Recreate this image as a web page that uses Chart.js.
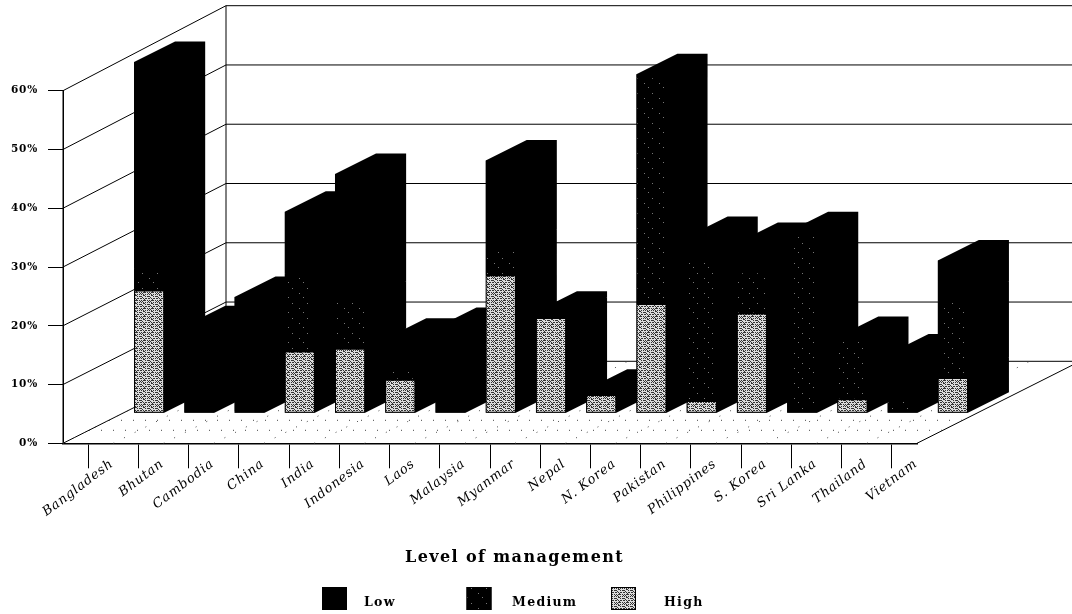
<!DOCTYPE html>
<html>
<head>
<meta charset="utf-8">
<title>Level of management</title>
<script src="https://cdn.jsdelivr.net/npm/chart.js@4/dist/chart.umd.min.js"></script>
<style>
  html, body { margin: 0; background: #fff; }
  canvas { display: block; }
</style>
</head>
<body>
<canvas id="chart" width="1072" height="614"></canvas>
<script>
const countries = ['Bangladesh', 'Bhutan', 'Cambodia', 'China', 'India', 'Indonesia', 'Laos', 'Malaysia', 'Myanmar',
  'Nepal', 'N. Korea', 'Pakistan', 'Philippines', 'S. Korea', 'Sri Lanka', 'Thailand', 'Vietnam'];
const high = [20.9, 0, 0.3, 10.5, 11, 5.7, 0, 23.5, 16.2, 3.1, 18.6, 2.1, 17, 0, 2.4, 0, 6];
const medium = [3.8, 0, 0, 13.3, 8, 2, 0, 4.3, 0, 0, 38.6, 24, 7, 30.3, 10.1, 2.1, 13];
const low = [35.1, 14.8, 19.5, 10.5, 21.7, 5, 14.5, 15.2, 1.1, 0.9, 0.5, 3.9, 5, 0.5, 0.5, 7.9, 7];
const yTicks = [0, 10, 20, 30, 40, 50, 60];
const axisTitle = 'Level of management';

// drawing geometry of the fake 3D box
const AREA = { left: 63, right: 917, top: 90.7, bottom: 443.3 };
const WALL_DX = 163, WALL_DY = 82;   // floor depth
const BAR_DX = 41, BAR_DY = 20.5;    // bar depth
const SHIFT_DX = 61, SHIFT_DY = 30;  // bars sit in the middle of the floor
const SERIF = '"DejaVu Serif", "Liberation Serif", serif';

function tilePattern(rows, ink, paper) {
  const c = document.createElement('canvas');
  c.width = rows[0].length;
  c.height = rows.length;
  const g = c.getContext('2d');
  g.fillStyle = paper;
  g.fillRect(0, 0, c.width, c.height);
  g.fillStyle = ink;
  rows.forEach((row, y) => [...row].forEach((p, x) => { if (p === '#') g.fillRect(x, y, 1, 1); }));
  return g.createPattern(c, 'repeat');
}

const lowFill = '#000';
const mediumFill = tilePattern([
  '...............', '...............', '...............', '......#........', '...............',
  '...............', '...............', '...............', '.............#.', '...............',
  '...............', '...............', '..#............', '...............', '...............'
], '#777', '#000');
const highFill = tilePattern([
  '#.#.##.#', '...#....', '#.###.#.', '.#.....#', '#.#.#.#.', '..##....', '#...#.##', '.#......'
], '#333', '#dcdcdc');

function rearY(scale, v) {
  return scale.getPixelForValue(v) - WALL_DY - v * 0.05;
}

function line(ctx, x1, y1, x2, y2) {
  ctx.beginPath();
  ctx.moveTo(x1, y1);
  ctx.lineTo(x2, y2);
  ctx.stroke();
}

function drawBox(chart) {
  const { ctx, scales: { x, y } } = chart;
  const left = x.left, right = x.right, floor = y.getPixelForValue(0);
  ctx.save();
  ctx.strokeStyle = '#000';
  ctx.lineWidth = 1;
  yTicks.forEach(v => {
    const fy = y.getPixelForValue(v), ry = rearY(y, v);
    line(ctx, left, fy, left + WALL_DX, ry);
    line(ctx, left + WALL_DX, ry, chart.width, ry);
  });
  line(ctx, left, y.getPixelForValue(60), left, floor);
  line(ctx, left + WALL_DX, rearY(y, 60), left + WALL_DX, floor - WALL_DY);
  line(ctx, right, floor, right + WALL_DX, floor - WALL_DY);

  // dotted floor
  ctx.strokeStyle = '#444';
  ctx.setLineDash([1, 11]);
  countries.forEach((c, i) => {
    const fx = x.getPixelForValue(i) - x.width / countries.length / 2;
    line(ctx, fx, floor, fx + WALL_DX, floor - WALL_DY);
  });
  line(ctx, left + 26, floor - 13, right + 26, floor - 13);
  line(ctx, left + 46, floor - 23, right + 46, floor - 23);
  ctx.restore();
}

// side and roof go under the fronts, the next bar's front hides them
function drawSides(chart) {
  const ctx = chart.ctx;
  ctx.fillStyle = '#000';
  chart.data.datasets.forEach((ds, d) => {
    chart.getDatasetMeta(d).data.forEach(bar => {
      const r = bar.x + bar.width / 2, l = bar.x - bar.width / 2;
      if (bar.base - bar.y < 0.01) return;
      ctx.beginPath();
      ctx.moveTo(l, bar.y);
      ctx.lineTo(l, bar.base);
      ctx.lineTo(r, bar.base);
      ctx.lineTo(r + BAR_DX, bar.base - BAR_DY);
      ctx.lineTo(r + BAR_DX, bar.y - BAR_DY);
      ctx.lineTo(l + BAR_DX, bar.y - BAR_DY);
      ctx.closePath();
      ctx.fill();
    });
  });
}

const box3d = {
  id: 'box3d',
  beforeDraw(chart) {
    chart.ctx.letterSpacing = '0.8px';
  },
  beforeDatasetsDraw(chart) {
    drawBox(chart);
    chart.ctx.save();
    chart.ctx.translate(SHIFT_DX, -SHIFT_DY);
    drawSides(chart);
  },
  afterDatasetsDraw(chart) {
    chart.ctx.restore();
  },
  afterDraw(chart) {
    const ctx = chart.ctx;
    ctx.save();
    ctx.fillStyle = '#000';
    ctx.textBaseline = 'middle';
    ctx.letterSpacing = '1.4px';
    ctx.font = 'bold 16px ' + SERIF;
    ctx.fillText(axisTitle, 405, 558);

    // legend, same order as the reference
    const items = [['Low', lowFill], ['Medium', mediumFill], ['High', highFill]];
    ctx.letterSpacing = '1.3px';
    ctx.font = 'bold 12.5px ' + SERIF;
    items.forEach((item, i) => {
      const bx = 322 + i * 144.5, tx = [364, 512, 664][i];
      ctx.fillStyle = item[1];
      ctx.fillRect(bx, 587, 25, 23);
      ctx.strokeStyle = '#000';
      ctx.strokeRect(bx + 0.5, 587.5, 24, 22);
      ctx.fillStyle = '#000';
      ctx.fillText(item[0], tx, 603);
    });
    ctx.restore();
  }
};

function dataset(label, values, fill) {
  return {
    label, data: values, backgroundColor: fill, borderColor: '#000', borderWidth: 1, borderSkipped: false,
    barPercentage: 0.6, categoryPercentage: 1, clip: false
  };
}

function noPadding(scale) {
  scale.paddingLeft = scale.paddingRight = scale.paddingTop = scale.paddingBottom = 0;
}

new Chart(document.getElementById('chart'), {
  type: 'bar',
  data: {
    labels: countries,
    datasets: [dataset('High', high, highFill), dataset('Medium', medium, mediumFill), dataset('Low', low, lowFill)]
  },
  options: {
    responsive: false,
    animation: false,
    layout: { padding: { top: AREA.top, right: 1072 - AREA.right, left: 0, bottom: 0 } },
    plugins: { legend: { display: false }, tooltip: { enabled: false } },
    scales: {
      x: {
        stacked: true,
        afterFit(scale) { scale.height = 614 - AREA.bottom; noPadding(scale); },
        grid: { offset: false, drawOnChartArea: false, tickLength: 25, color: '#000' },
        border: { color: '#000', width: 1.5 },
        ticks: {
          color: '#000', autoSkip: false, minRotation: 37, maxRotation: 37, labelOffset: 24, padding: -12,
          font: { family: SERIF, size: 13, style: 'italic' }
        }
      },
      y: {
        stacked: true,
        min: 0,
        max: 60,
        afterFit(scale) { scale.width = AREA.left; noPadding(scale); },
        grid: { drawOnChartArea: false, tickLength: 15, color: '#000' },
        border: { color: '#000' },
        ticks: {
          color: '#000', stepSize: 10, padding: 10, callback: v => v + '%',
          font: { family: SERIF, size: 10.5, weight: 'bold' }
        }
      }
    }
  },
  plugins: [box3d]
});
</script>
</body>
</html>
